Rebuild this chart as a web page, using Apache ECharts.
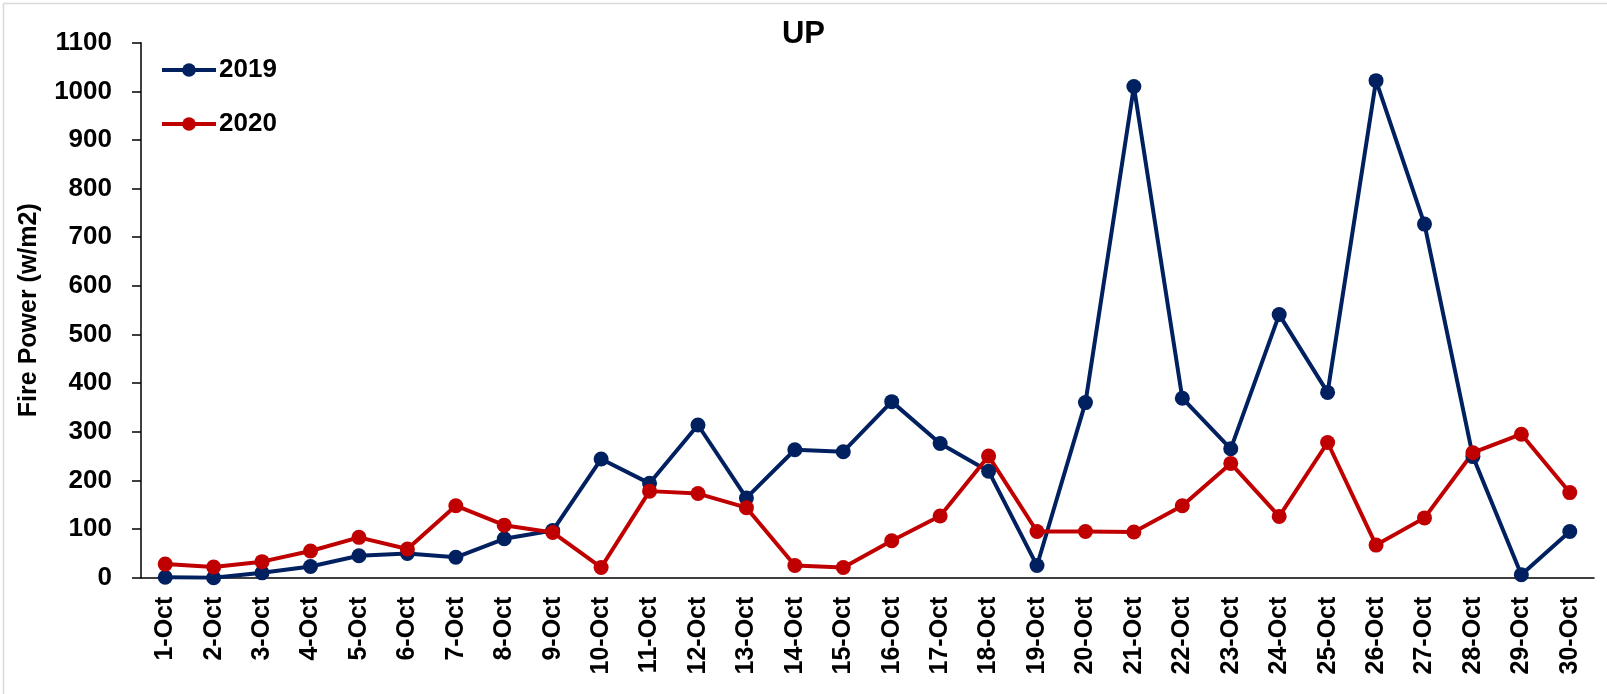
<!DOCTYPE html>
<html>
<head>
<meta charset="utf-8">
<script src="https://cdn.jsdelivr.net/npm/echarts@6/dist/echarts.min.js"></script>
<style>
html,body{margin:0;padding:0;background:#fff;}
#chart{width:1607px;height:694px;}
</style>
</head>
<body>
<div id="chart"></div>
<script>
const categories = ['1-Oct','2-Oct','3-Oct','4-Oct','5-Oct','6-Oct','7-Oct','8-Oct','9-Oct','10-Oct',
  '11-Oct','12-Oct','13-Oct','14-Oct','15-Oct','16-Oct','17-Oct','18-Oct','19-Oct','20-Oct',
  '21-Oct','22-Oct','23-Oct','24-Oct','25-Oct','26-Oct','27-Oct','28-Oct','29-Oct','30-Oct'];
const values2019 = [1, 0, 10, 23, 45, 50, 42, 80, 97, 244, 194, 314, 164, 263, 259, 362, 276, 219, 25, 360,
  1010, 369, 265, 541, 381, 1022, 727, 249, 6, 95];
const values2020 = [28, 22, 33, 55, 83, 59, 148, 108, 93, 21, 178, 173, 144, 25, 21, 76, 127, 250, 95, 95,
  94, 148, 235, 126, 278, 67, 123, 257, 295, 175];
const seriesNames = ['2019', '2020'];
const chartTitle = 'UP';
const yAxisTitle = 'Fire Power (w/m2)';

const FONT = '"Liberation Sans", Arial, sans-serif';
const chart = echarts.init(document.getElementById('chart'));
chart.setOption({
  backgroundColor: '#ffffff',
  animation: false,
  title: {
    text: chartTitle, left: 'center', top: 14,
    textStyle: {fontFamily: FONT, fontWeight: 'bold', fontSize: 31, color: '#000'}
  },
  legend: {
    left: 160, top: 55, orient: 'vertical',
    itemWidth: 54, itemHeight: 17, itemGap: 24, padding: 0,
    lineStyle: {width: 4},
    textStyle: {fontFamily: FONT, fontWeight: 'bold', fontSize: 26, color: '#000', lineHeight: 30, padding: [0,0,0,-2]},
    data: seriesNames
  },
  grid: {left: 141, right: 13, top: 42.7, bottom: 116.3, containLabel: false},
  xAxis: {
    type: 'category', data: categories, boundaryGap: true,
    axisLine: {lineStyle: {color: '#000', width: 1.5}},
    axisTick: {show: false},
    axisLabel: {rotate: 90, interval: 0, margin: 19, fontFamily: FONT, fontWeight: 'bold', fontSize: 25, color: '#000'}
  },
  yAxis: {
    type: 'value', min: 0, max: 1100, interval: 100,
    name: yAxisTitle, nameLocation: 'middle', nameGap: 99, nameRotate: 90,
    nameTextStyle: {fontFamily: FONT, fontWeight: 'bold', fontSize: 25, color: '#000'},
    axisLine: {show: true, lineStyle: {color: '#000', width: 1.5}},
    axisTick: {show: true, length: 9, lineStyle: {color: '#000', width: 1.5}},
    splitLine: {show: false},
    axisLabel: {margin: 29, fontFamily: FONT, fontWeight: 'bold', fontSize: 26, color: '#000',
      formatter: function (v) { return String(v); }}
  },
  series: [
    {name: seriesNames[0], type: 'line', data: values2019, symbol: 'circle', symbolSize: 15,
     lineStyle: {width: 4, color: '#002060'}, itemStyle: {color: '#002060'}},
    {name: seriesNames[1], type: 'line', data: values2020, symbol: 'circle', symbolSize: 15,
     lineStyle: {width: 4, color: '#C00000'}, itemStyle: {color: '#C00000'}}
  ],
  graphic: [
    {type: 'line', shape: {x1: 3.5, y1: 3.5, x2: 1607, y2: 3.5}, style: {stroke: '#d9d9d9', lineWidth: 1.5}},
    {type: 'line', shape: {x1: 3.5, y1: 3.5, x2: 3.5, y2: 694}, style: {stroke: '#d9d9d9', lineWidth: 1.5}}
  ]
});
</script>
</body>
</html>
